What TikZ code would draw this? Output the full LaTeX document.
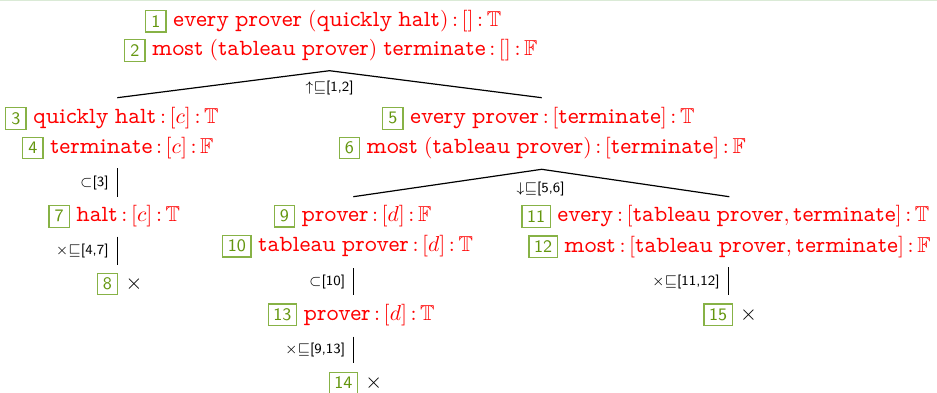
\RequirePackage{fix-cm}
\documentclass[tikz,border=0pt]{standalone}
\usepackage{amssymb}
\usetikzlibrary{positioning}

\definecolor{boxgreen}{RGB}{135,178,70}
\definecolor{numgreen}{RGB}{100,150,15}
\definecolor{topline}{RGB}{218,234,214}

% proportional typewriter words, the narrow space between them, and a tight colon
\newcommand\tw[1]{\mbox{\fontfamily{lmvtt}\fontsize{11.6}{12}\selectfont #1}}
\newcommand\ws{\hspace{0.28em}}
\newcommand\cl{\mskip3mu{:}\mskip3mu}

\tikzset{
  numbox/.style={draw=boxgreen, line width=0.6pt, text=numgreen,
    font=\sffamily\fontsize{8.8}{10}\selectfont,
    inner xsep=2.6pt, inner ysep=0pt, minimum height=10.8pt, minimum width=10.2pt, anchor=west},
  formula/.style={text=red, font=\fontsize{10.8}{12}\selectfont,
    inner sep=0pt, text height=8.1pt, text depth=2.7pt, anchor=west},
  closed/.style={formula, text=black},
  rulelab/.style={font=\sffamily\fontsize{7}{8}\selectfont, inner sep=0pt},
  edge/.style={line width=0.6pt, black}
}

\begin{document}
\begin{tikzpicture}[x=0.5pt, y=-0.5pt]
\useasboundingbox (0,0) rectangle (937,392);
\fill[topline] (0,0) rectangle (937,1.4);

% root: lines 1 and 2
\node[numbox] (n1) at (145,21.2) {1};
\node[formula, right=3pt of n1] (f1) {$\tw{every}\ws\tw{prover}\ws(\tw{quickly}\ws\tw{halt})\cl[]\cl\mathbb{T}$};
\node[numbox] (n2) at (124,50.3) {2};
\node[formula, right=3pt of n2] (f2) {$\tw{most}\ws(\tw{tableau}\ws\tw{prover})\ws\tw{terminate}\cl[]\cl\mathbb{F}$};

% first branching
\coordinate (a1) at (329.5,70.7);
\coordinate (a1l) at (117.3,97.7);
\coordinate (a1r) at (541.7,97.7);
\draw[edge] (a1l) -- (a1) -- (a1r);
\node[rulelab] (r1) at (329.5,88.3) {${\uparrow}{\sqsubseteq}$[1,2]};

% left branch
\node[numbox] (n3) at (5,118.3) {3};
\node[formula, right=3pt of n3] (f3) {$\tw{quickly}\ws\tw{halt}\cl[c]\cl\mathbb{T}$};
\node[numbox] (n4) at (22,148) {4};
\node[formula, right=3pt of n4] (f4) {$\tw{terminate}\cl[c]\cl\mathbb{F}$};

\coordinate (v1t) at (117.3,168.3);
\coordinate (v1b) at (117.3,196.7);
\draw[edge] (v1t) -- (v1b);
\node[rulelab, anchor=east] (r2) at (109,182.5) {${\subset}$[3]};

\node[numbox] (n7) at (48.3,216.3) {7};
\node[formula, right=3pt of n7] (f7) {$\tw{halt}\cl[c]\cl\mathbb{T}$};

\coordinate (v2t) at (117.3,236.7);
\coordinate (v2b) at (117.3,265);
\draw[edge] (v2t) -- (v2b);
\node[rulelab, anchor=east] (r3) at (109,251) {${\times}{\sqsubseteq}$[4,7]};

\node[numbox] (n8) at (96.7,284) {8};
\node[closed, right=3.4pt of n8] (f8) {${\times}$};

% right branch
\node[numbox] (n5) at (382,118.3) {5};
\node[formula, right=3pt of n5] (f5) {$\tw{every}\ws\tw{prover}\cl[\tw{terminate}]\cl\mathbb{T}$};
\node[numbox] (n6) at (338.5,148) {6};
\node[formula, right=3pt of n6] (f6) {$\tw{most}\ws(\tw{tableau}\ws\tw{prover})\cl[\tw{terminate}]\cl\mathbb{F}$};

\coordinate (a2) at (541.7,169.3);
\coordinate (a2l) at (353.3,196.7);
\coordinate (a2r) at (729.3,196.7);
\draw[edge] (a2l) -- (a2) -- (a2r);
\node[rulelab] (r4) at (540.5,188.8) {${\downarrow}{\sqsubseteq}$[5,6]};

\node[numbox] (n9) at (273.5,216.2) {9};
\node[formula, right=3pt of n9] (f9) {$\tw{prover}\cl[d]\cl\mathbb{F}$};
\node[numbox] (n10) at (222,246.2) {10};
\node[formula, right=3pt of n10] (f10) {$\tw{tableau}\ws\tw{prover}\cl[d]\cl\mathbb{T}$};

\coordinate (v3t) at (353.3,268.3);
\coordinate (v3b) at (353.3,295);
\draw[edge] (v3t) -- (v3b);
\node[rulelab, anchor=east] (r5) at (345.5,281.7) {${\subset}$[10]};

\node[numbox] (n13) at (267.5,314.7) {13};
\node[formula, right=3pt of n13] (f13) {$\tw{prover}\cl[d]\cl\mathbb{T}$};

\coordinate (v4t) at (353.3,336.7);
\coordinate (v4b) at (353.3,363.3);
\draw[edge] (v4t) -- (v4b);
\node[rulelab, anchor=east] (r6) at (345.5,350) {${\times}{\sqsubseteq}$[9,13]};

\node[numbox] (n14) at (328.5,383) {14};
\node[closed, right=3.4pt of n14] (f14) {${\times}$};

\node[numbox] (n11) at (521.3,216.3) {11};
\node[formula, right=3pt of n11] (f11) {$\tw{every}\cl[\tw{tableau}\ws\tw{prover},\tw{terminate}]\cl\mathbb{T}$};
\node[numbox] (n12) at (528.3,246.7) {12};
\node[formula, right=3pt of n12] (f12) {$\tw{most}\cl[\tw{tableau}\ws\tw{prover},\tw{terminate}]\cl\mathbb{F}$};

\coordinate (v5t) at (728.7,267.3);
\coordinate (v5b) at (728.7,295);
\draw[edge] (v5t) -- (v5b);
\node[rulelab, anchor=east] (r7) at (720,281.7) {${\times}{\sqsubseteq}$[11,12]};

\node[numbox] (n15) at (703.3,314.7) {15};
\node[closed, right=3.4pt of n15] (f15) {${\times}$};
\end{tikzpicture}
\end{document}
